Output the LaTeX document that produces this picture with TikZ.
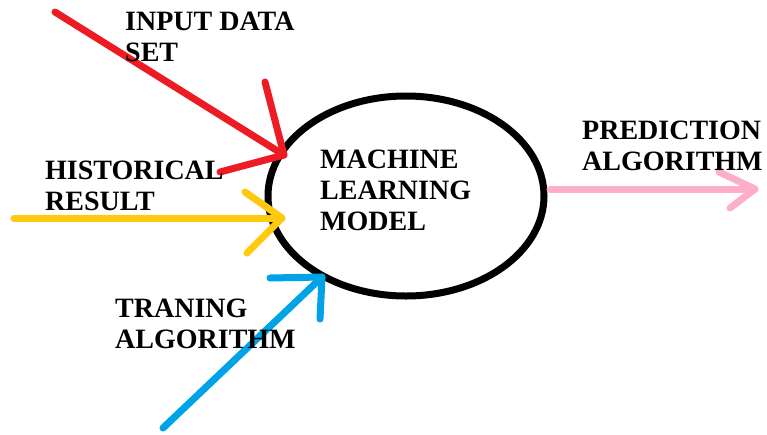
\documentclass[tikz,border=0pt]{standalone}
\usepackage{fontspec}
\setmainfont{Liberation Serif}
\usetikzlibrary{shapes.geometric}
\definecolor{paintred}{HTML}{ED1C24}
\definecolor{paintgold}{HTML}{FFC90E}
\definecolor{paintblue}{HTML}{00A2E8}
\definecolor{paintrose}{HTML}{FFAEC9}
\tikzset{
	stroke/.style={line width=7pt, line cap=round, line join=round},
	caption/.style={anchor=base west, inner sep=0pt, align=left, font=\bfseries\fontsize{28}{31}\selectfont}
}

\begin{document}
\begin{tikzpicture}[x=1pt, y=-1pt]
		%%%%% START %%%%%
		\useasboundingbox (0, 0) rectangle (767, 434);
		
		\node[draw, ellipse, line width=7pt, minimum width=276pt, minimum height=200pt, inner sep=0pt] (model) at (406, 196) {};
		
		% red
		\coordinate (redstart) at (55, 12);
		\coordinate (redtip) at (284, 155);
		\coordinate (redbarbA) at (265, 82);
		\coordinate (redbarbB) at (220, 172);
		\draw[stroke, color=paintred] (redstart) -- (redtip);
		\draw[stroke, color=paintred] (redbarbA) -- (redtip) -- (redbarbB);
		
		% yellow
		\coordinate (goldstart) at (14, 218);
		\coordinate (goldtip) at (282, 218);
		\coordinate (goldbarbA) at (245, 192);
		\coordinate (goldbarbB) at (247, 253);
		\draw[stroke, color=paintgold] (goldstart) -- (goldtip);
		\draw[stroke, color=paintgold] (goldbarbA) -- (goldtip) -- (goldbarbB);
		
		% blue
		\coordinate (bluestart) at (163, 428);
		\coordinate (bluetip) at (322, 277);
		\coordinate (bluebarbA) at (270, 278);
		\coordinate (bluebarbB) at (320, 319);
		\draw[stroke, color=paintblue] (bluestart) -- (bluetip);
		\draw[stroke, color=paintblue] (bluebarbA) -- (bluetip) -- (bluebarbB);
		
		% pink
		\coordinate (rosestart) at (550, 189);
		\coordinate (rosetip) at (755, 189);
		\coordinate (rosebarbA) at (719, 172);
		\coordinate (rosebarbB) at (730, 208);
		\draw[stroke, color=paintrose] (rosestart) -- (rosetip);
		\draw[stroke, color=paintrose] (rosebarbA) -- (rosetip) -- (rosebarbB);
		
		% base anchor sits on the last line
		\node[caption] (inputtext) at (125, 61) {INPUT DATA\\SET};
		\node[caption] (historytext) at (45, 210) {HISTORICAL\\RESULT};
		\node[caption] (modeltext) at (320, 230) {MACHINE\\LEARNING\\MODEL};
		\node[caption] (trainingtext) at (115, 348) {TRANING\\ALGORITHM};
		\node[caption] (predicttext) at (582, 170) {PREDICTION\\ALGORITHM};
		%%%%% END %%%%%
	\end{tikzpicture}
\end{document}
